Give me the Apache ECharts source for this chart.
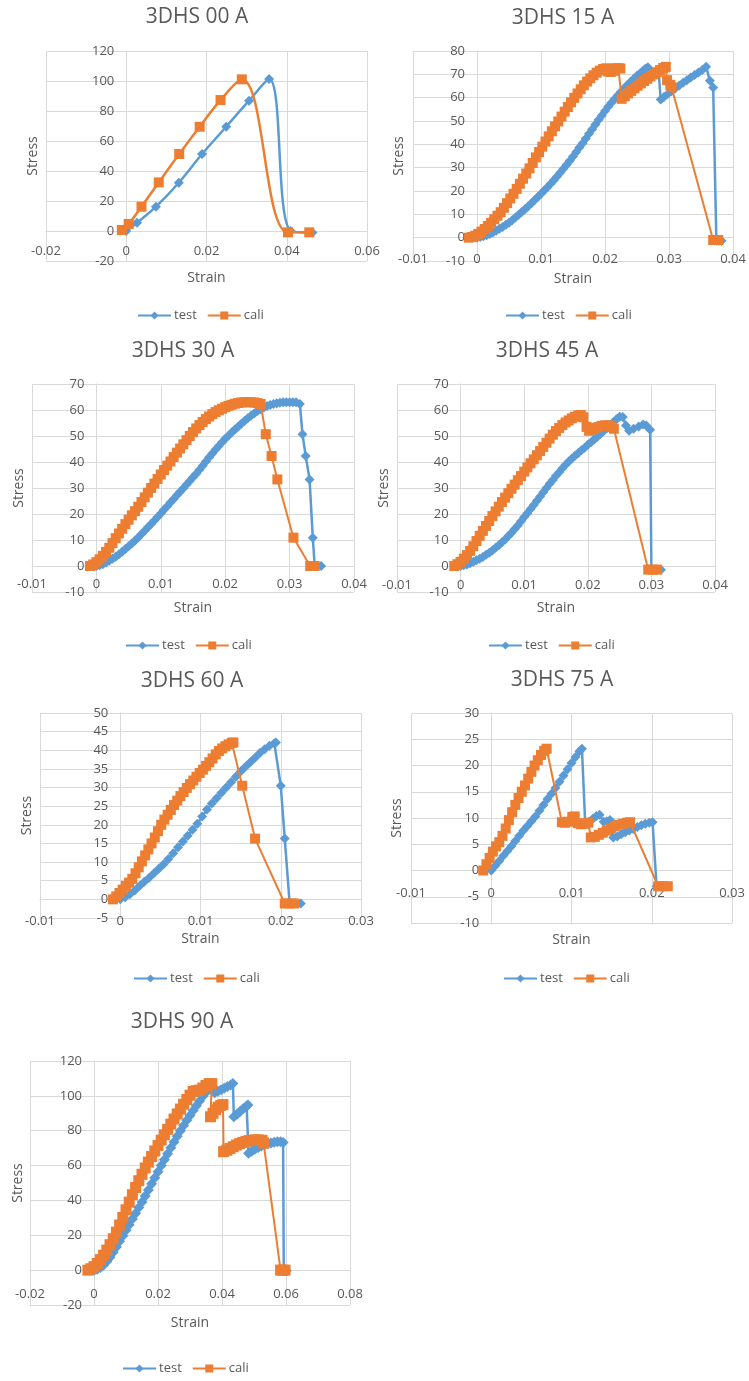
<!DOCTYPE html>
<html><head><meta charset="utf-8">
<script src="https://cdn.jsdelivr.net/npm/echarts@6/dist/echarts.min.js"></script>
<style>html,body{margin:0;padding:0;background:#fff}#c{width:749px;height:1381px}</style>
</head><body><div id="c"></div>
<script>
// ---------- DATA ([strain, stress]) ----------
const seriesNames = ['test', 'cali'];
const titles = ['3DHS 00 A', '3DHS 15 A', '3DHS 30 A', '3DHS 45 A', '3DHS 60 A', '3DHS 75 A', '3DHS 90 A'];
// axis ranges: [min, max, interval]
const xTicks = [[-0.02, 0.06, 0.02], [-0.01, 0.04, 0.01], [-0.01, 0.04, 0.01], [-0.01, 0.04, 0.01], [-0.01, 0.03, 0.01], [-0.01, 0.03, 0.01], [-0.02, 0.08, 0.02]];
const yTicks = [[-20, 120, 20], [-10, 80, 10], [-10, 70, 10], [-10, 70, 10], [-5, 50, 5], [-10, 30, 5], [-20, 120, 20]];

const test00 = [[0,0],[0.0027,5.5],[0.0074,16.2],[0.0131,32.2],[0.0189,51.3],[0.0249,69.5],[0.0306,86.9],[0.0356,101.3],[0.041,0],[0.0464,-1]];
const cali00 = [[-0.0011,0.7],[0.0006,4.7],[0.0038,16.2],[0.0081,32.4],[0.0132,51.3],[0.0183,69.5],[0.0235,87.3],[0.0288,101.1],[0.0403,-0.9],[0.0456,-0.9]];

const test15 = [[0,0],[0.0005,0.25],[0.001,0.6],[0.0015,1.05],[0.002,1.6],[0.0025,2.25],[0.003,3],[0.0035,3.8],[0.004,4.6],[0.0045,5.5],[0.005,6.4],[0.0055,7.5],[0.006,8.6],[0.0065,9.8],[0.007,11],[0.0075,12.2],[0.008,13.5],[0.0085,14.8],[0.009,16.1],[0.0095,17.4],[0.01,18.8],[0.0105,20.2],[0.011,21.6],[0.0115,23.1],[0.012,24.6],[0.0125,26.2],[0.013,27.8],[0.0135,29.5],[0.014,31.2],[0.0145,33],[0.015,34.8],[0.0155,36.7],[0.016,38.6],[0.0165,40.5],[0.017,42.5],[0.0175,44.5],[0.018,46.5],[0.0185,48.5],[0.019,50.5],[0.0195,52.4],[0.02,54.3],[0.0205,56.1],[0.021,57.8],[0.0215,59.4],[0.022,61],[0.0225,62.5],[0.023,64],[0.0235,65.4],[0.024,66.8],[0.0245,68.1],[0.025,69.4],[0.0255,70.5],[0.026,71.6],[0.0263,72.4],[0.0267,73],[0.0284,70.5],[0.0287,59.2],[0.0292,60.3],[0.0298,61.6],[0.0304,62.8],[0.031,64],[0.0316,65.2],[0.0322,66.4],[0.0328,67.5],[0.0334,68.6],[0.034,69.7],[0.0346,70.8],[0.0352,71.9],[0.0358,73.3],[0.0364,67.2],[0.0369,64.4],[0.0374,-1.3],[0.0378,-1.3],[0.0382,-1.3]];
const cali15 = [[-0.0013,0],[-0.0008,0.3],[-0.0003,0.8],[0.0002,1.6],[0.0007,2.6],[0.0012,3.7],[0.0017,5],[0.0022,6.4],[0.0027,7.9],[0.0032,9.4],[0.0037,10.9],[0.0042,12.8],[0.0047,14.8],[0.0052,16.8],[0.0057,18.8],[0.0062,20.9],[0.0067,23.1],[0.0072,25.3],[0.0077,27.5],[0.0082,29.7],[0.0087,32],[0.0092,34.4],[0.0097,36.7],[0.0102,39],[0.0107,41.2],[0.0112,43.4],[0.0117,45.6],[0.0122,47.7],[0.0127,49.8],[0.0132,51.9],[0.0137,54],[0.0142,56],[0.0147,58],[0.0152,59.9],[0.0157,61.8],[0.0162,63.6],[0.0167,65.3],[0.0172,66.9],[0.0177,68.3],[0.0182,69.6],[0.0187,70.7],[0.0192,71.6],[0.0197,72.3],[0.0202,72.6],[0.0205,71.2],[0.0209,71],[0.0213,71.5],[0.0217,72.6],[0.0221,72.6],[0.0224,72.5],[0.0226,59.5],[0.0231,60.6],[0.0236,61.8],[0.0241,62.9],[0.0246,64],[0.0251,65.1],[0.0256,66.1],[0.0261,67.1],[0.0266,68.1],[0.0271,69.1],[0.0276,70],[0.0281,70.9],[0.0286,71.8],[0.0291,72.7],[0.0295,73.2],[0.0297,67.5],[0.0302,65.5],[0.0304,64.5],[0.0369,-1],[0.0373,-1],[0.0377,-1]];

const test30 = [[0,0],[0.0005,0.3],[0.001,0.7],[0.0015,1.3],[0.002,2],[0.0025,2.8],[0.003,3.6],[0.0035,4.5],[0.004,5.5],[0.0045,6.5],[0.005,7.6],[0.0055,8.7],[0.006,9.8],[0.0065,11],[0.007,12.3],[0.0075,13.6],[0.008,14.9],[0.0085,16.2],[0.009,17.5],[0.0095,18.8],[0.01,20.2],[0.0105,21.6],[0.011,23],[0.0115,24.4],[0.012,25.8],[0.0125,27.2],[0.013,28.6],[0.0135,29.9],[0.014,31.3],[0.0145,32.7],[0.015,34.1],[0.0155,35.5],[0.016,37],[0.0165,38.6],[0.017,40.2],[0.0175,41.8],[0.018,43.3],[0.0185,44.8],[0.019,46.2],[0.0195,47.6],[0.02,48.9],[0.0205,50.1],[0.021,51.3],[0.0215,52.5],[0.022,53.6],[0.0225,54.7],[0.023,55.8],[0.0235,56.8],[0.024,57.8],[0.0245,58.7],[0.025,59.6],[0.0255,60.3],[0.026,61],[0.0265,61.5],[0.027,61.9],[0.0275,62.3],[0.028,62.6],[0.0285,62.8],[0.029,63],[0.0295,63],[0.03,63],[0.0305,63],[0.031,63],[0.0316,62.3],[0.032,50.7],[0.0325,42.3],[0.0331,33.3],[0.0336,10.9],[0.0339,0],[0.0349,0]];
const cali30 = [[-0.001,0],[-0.0005,0.6],[0,1.5],[0.0005,2.6],[0.001,3.9],[0.0015,5.4],[0.002,7],[0.0025,8.8],[0.003,10.7],[0.0035,12.5],[0.004,14.3],[0.0045,16.1],[0.005,17.8],[0.0055,19.5],[0.006,21.1],[0.0065,22.8],[0.007,24.6],[0.0075,26.4],[0.008,28.2],[0.0085,30],[0.009,31.7],[0.0095,33.5],[0.01,35.2],[0.0105,36.9],[0.011,38.6],[0.0115,40.2],[0.012,41.9],[0.0125,43.6],[0.013,45.2],[0.0135,46.8],[0.014,48.4],[0.0145,50],[0.015,51.5],[0.0155,52.9],[0.016,54.2],[0.0165,55.4],[0.017,56.5],[0.0175,57.5],[0.018,58.4],[0.0185,59.2],[0.019,59.9],[0.0195,60.5],[0.02,61.1],[0.0205,61.6],[0.021,62],[0.0215,62.4],[0.022,62.7],[0.0225,62.9],[0.023,63],[0.0235,63],[0.024,63],[0.0245,62.9],[0.025,62.7],[0.0255,62.3],[0.0263,50.7],[0.0272,42.3],[0.0281,33.3],[0.0306,10.9],[0.0332,0],[0.0339,0]];

const test45 = [[0,0],[0.0005,0.25],[0.001,0.6],[0.0015,1.1],[0.002,1.6],[0.0025,2.2],[0.003,2.8],[0.0035,3.5],[0.004,4.3],[0.0045,5.1],[0.005,6],[0.0055,7],[0.006,8],[0.0065,9.1],[0.007,10.2],[0.0075,11.5],[0.008,12.8],[0.0085,14.2],[0.009,15.6],[0.0095,17.2],[0.01,18.8],[0.0105,20.3],[0.011,21.9],[0.0115,23.5],[0.012,25.1],[0.0125,26.7],[0.013,28.4],[0.0135,30],[0.014,31.6],[0.0145,33.1],[0.015,34.7],[0.0155,36.1],[0.016,37.6],[0.0165,38.9],[0.017,40.2],[0.0175,41.3],[0.018,42.4],[0.0185,43.5],[0.019,44.5],[0.0195,45.5],[0.02,46.6],[0.0205,47.6],[0.021,48.7],[0.0215,49.7],[0.022,50.8],[0.0225,51.9],[0.023,53],[0.0235,54.1],[0.024,55.3],[0.0245,56.4],[0.025,57.4],[0.0255,57.3],[0.026,54],[0.0265,52],[0.0272,52.8],[0.028,53.7],[0.0287,54.4],[0.0292,54],[0.0298,52.4],[0.03,-1.2],[0.0307,-1.3],[0.0315,-1.4]];
const cali45 = [[-0.001,0],[-0.0005,0.7],[0,1.6],[0.0005,2.8],[0.001,4.2],[0.0015,5.8],[0.002,7.6],[0.0025,9.6],[0.003,11.6],[0.0035,13.5],[0.004,15.4],[0.0045,17.3],[0.005,19.2],[0.0055,21],[0.006,22.8],[0.0065,24.6],[0.007,26.3],[0.0075,28],[0.008,29.7],[0.0085,31.3],[0.009,33],[0.0095,34.6],[0.01,36.3],[0.0105,37.9],[0.011,39.5],[0.0115,41],[0.012,42.6],[0.0125,44.2],[0.013,45.8],[0.0135,47.4],[0.014,49],[0.0145,50.5],[0.015,51.9],[0.0155,53.1],[0.016,54.2],[0.0165,55.2],[0.017,56],[0.0175,56.8],[0.018,57.4],[0.0185,57.9],[0.0189,58.1],[0.0193,57.2],[0.0198,53.5],[0.0202,52],[0.0207,52.6],[0.0212,53.1],[0.0217,53.5],[0.0222,53.9],[0.0227,54.1],[0.0232,54.1],[0.0237,53.6],[0.0241,52.8],[0.0295,-1.4],[0.0302,-1.4],[0.0309,-1.4]];

const test60 = [[0,0],[0.0006,0.6],[0.0012,1.4],[0.0018,2.4],[0.0024,3.6],[0.003,4.7],[0.0036,5.8],[0.0042,7],[0.0048,8.2],[0.0054,9.4],[0.006,10.8],[0.0066,12.4],[0.0072,14],[0.0078,15.5],[0.0084,17.1],[0.009,18.7],[0.0096,20.3],[0.0102,22.2],[0.0108,24.1],[0.0114,25.7],[0.012,27.1],[0.0126,28.6],[0.0132,30],[0.0138,31.4],[0.0144,32.9],[0.015,34.3],[0.0156,35.6],[0.0162,36.8],[0.0168,38],[0.0174,39.3],[0.018,40.3],[0.0186,41.2],[0.0192,41.9],[0.0194,42.1],[0.02,30.5],[0.0205,16.3],[0.0211,-0.9],[0.0218,-1],[0.0225,-1.1]];
const cali60 = [[-0.0009,0],[-0.0005,0.8],[-0.0001,1.7],[0.0003,2.6],[0.0007,3.6],[0.0011,4.5],[0.0015,5.5],[0.0019,7],[0.0023,8.6],[0.0027,10.2],[0.0031,11.8],[0.0035,13.4],[0.0039,15],[0.0043,16.6],[0.0047,18.3],[0.0051,20],[0.0055,21.4],[0.0059,22.7],[0.0063,24],[0.0067,25.3],[0.0071,26.5],[0.0075,27.7],[0.0079,28.8],[0.0083,29.9],[0.0087,30.9],[0.0091,31.9],[0.0095,32.9],[0.0099,33.9],[0.0103,34.8],[0.0107,35.8],[0.0111,36.8],[0.0115,37.8],[0.0119,38.9],[0.0123,39.8],[0.0127,40.5],[0.0131,41.1],[0.0135,41.6],[0.0139,42],[0.0141,42.1],[0.0152,30.5],[0.0168,16.3],[0.0205,-1.1],[0.0211,-1.1],[0.0217,-1.1]];

const test75 = [[0,0],[0.0005,0.9],[0.001,1.8],[0.0015,2.8],[0.002,3.7],[0.0025,4.6],[0.003,5.6],[0.0035,6.6],[0.004,7.6],[0.0045,8.5],[0.005,9.4],[0.0055,10.3],[0.006,11.4],[0.0065,12.5],[0.007,13.6],[0.0075,14.6],[0.008,15.7],[0.0085,16.9],[0.009,18.1],[0.0095,19.3],[0.01,20.5],[0.0105,21.6],[0.011,22.7],[0.0113,23.2],[0.0117,9.3],[0.0122,9.3],[0.0127,9.9],[0.0131,10.4],[0.0135,10.6],[0.014,9.3],[0.0144,9.4],[0.0148,9.6],[0.0152,6.3],[0.0157,6.5],[0.0162,6.9],[0.0167,7.3],[0.0172,7.6],[0.0177,7.9],[0.0182,8.3],[0.0187,8.6],[0.0192,8.9],[0.0197,9.1],[0.0201,9.2],[0.0206,-3],[0.0211,-3]];
const cali75 = [[-0.001,0],[-0.0006,1.2],[-0.0002,2.4],[0.0002,3.6],[0.0006,4.6],[0.001,5.4],[0.0014,6.6],[0.0018,8],[0.0022,9.6],[0.0026,11.1],[0.003,12.5],[0.0034,13.8],[0.0038,15],[0.0042,16.2],[0.0046,17.5],[0.005,18.8],[0.0054,20],[0.0058,21],[0.0062,22],[0.0066,22.8],[0.0069,23.2],[0.0088,9.2],[0.0092,9.1],[0.0096,9.3],[0.0101,10.2],[0.0104,10.3],[0.0108,9],[0.0112,8.8],[0.0117,8.9],[0.0121,9.1],[0.0124,6.3],[0.0129,6.4],[0.0134,6.8],[0.0139,7.2],[0.0144,7.6],[0.0149,8],[0.0154,8.4],[0.0159,8.7],[0.0164,8.9],[0.0169,9.1],[0.0173,9.2],[0.0208,-3],[0.0214,-3],[0.022,-3]];

const test90 = [[0,0],[0.001,0.5],[0.002,1.5],[0.003,3],[0.004,5],[0.005,7.4],[0.006,10.2],[0.007,13.3],[0.008,16.6],[0.009,19.7],[0.01,22.9],[0.011,26.1],[0.012,29.3],[0.013,32.6],[0.014,35.9],[0.015,39.1],[0.016,42.5],[0.017,46],[0.018,49.5],[0.019,53],[0.02,56.5],[0.021,60],[0.022,63.4],[0.023,66.8],[0.024,70.2],[0.025,73.5],[0.026,76.8],[0.027,80],[0.028,83],[0.029,86],[0.03,88.8],[0.031,91.6],[0.032,94.3],[0.033,97],[0.034,99.8],[0.035,102],[0.036,103.8],[0.0372,105],[0.0377,101.8],[0.0387,102.7],[0.0397,103.5],[0.0407,104.4],[0.0417,105.3],[0.0427,106.3],[0.0434,107.1],[0.0437,88],[0.0447,89.5],[0.0457,91.2],[0.0467,92.8],[0.0477,94.2],[0.0481,94.7],[0.0483,67],[0.0493,68.2],[0.0503,69.3],[0.0513,70.3],[0.0523,71.2],[0.0533,71.9],[0.0543,72.5],[0.0553,73],[0.0563,73.4],[0.0573,73.6],[0.0583,73.6],[0.0591,73.2],[0.0593,0],[0.0601,-0.4]];
const cali90 = [[-0.0019,0],[-0.001,0.8],[0,2],[0.001,3.8],[0.002,6],[0.003,8.6],[0.004,11.5],[0.005,14.6],[0.006,18],[0.007,21.8],[0.008,25.9],[0.009,30.2],[0.01,34.6],[0.011,39],[0.012,43.3],[0.013,47.4],[0.014,51.3],[0.015,55],[0.016,58.6],[0.017,62],[0.018,65.2],[0.019,68.4],[0.02,71.5],[0.021,74.6],[0.022,77.7],[0.023,80.8],[0.024,83.8],[0.025,86.7],[0.026,89.6],[0.027,92.4],[0.028,95.2],[0.029,97.9],[0.03,100.4],[0.031,102.5],[0.032,103],[0.033,103.3],[0.034,104.5],[0.035,106],[0.036,107],[0.0368,107],[0.0364,88],[0.0372,90],[0.038,92],[0.0388,93.5],[0.0396,94.5],[0.0403,95],[0.0405,68],[0.0415,68.8],[0.0425,69.8],[0.0435,70.8],[0.0445,71.8],[0.0455,72.6],[0.0465,73.3],[0.0475,73.9],[0.0485,74.3],[0.0495,74.6],[0.0505,74.7],[0.0515,74.7],[0.0525,74.5],[0.053,73],[0.0583,0],[0.059,0],[0.0597,0]];

const testData = [test00, test15, test30, test45, test60, test75, test90];
const caliData = [cali00, cali15, cali30, cali45, cali60, cali75, cali90];

// ---------- LAYOUT (pixels) ----------
const layout = [
  {grid:[46,51,321,210],  title:[197,20],   legend:[137,315],  xGap:40, yGap:86, xm:14, smooth:0.4,   ts:10, cs:10},
  {grid:[413,51,320,210], title:[563,21],   legend:[505,315],  xGap:34, yGap:71, xm:15, smooth:false, ts:10, cs:10},
  {grid:[32,384,322,208], title:[183,354],  legend:[125,645],  xGap:35, yGap:70, xm:12, smooth:false, ts:10, cs:10},
  {grid:[397,384,318,208],title:[547,354],  legend:[488,645],  xGap:35, yGap:70, xm:13, smooth:false, ts:10, cs:10},
  {grid:[40,713,321,205], title:[192,684],  legend:[133,978],  xGap:33, yGap:86, xm:15, smooth:false, ts:10, cs:10},
  {grid:[411,713,321,210],title:[562,683],  legend:[503,978],  xGap:63, yGap:87, xm:16, smooth:false, ts:10, cs:10},
  {grid:[30,1061,320,244],title:[182,1025], legend:[122,1368], xGap:46, yGap:69, xm:18, smooth:false, ts:11, cs:11}
];

const BLUE = '#5B9BD5', ORANGE = '#ED7D31', TXT = '#595959', GRIDC = '#d9d9d9';
const FONT = '"Open Sans", "Noto Sans", sans-serif';
const fmt = v => String(parseFloat(Number(v).toFixed(4)));

const option = {
  backgroundColor: '#fff',
  animation: false,
  textStyle: {fontFamily: FONT},
  title: [], legend: [], grid: [], xAxis: [], yAxis: [], series: []
};

layout.forEach((L, i) => {
  const xt = xTicks[i], yt = yTicks[i];
  // place each axis on the other axis' zero (Excel style crossing)
  const xAxisOffset = -(0 - yt[0]) / (yt[1] - yt[0]) * L.grid[3];
  const yAxisOffset = -(0 - xt[0]) / (xt[1] - xt[0]) * L.grid[2];
  option.title.push({
    text: titles[i], left: L.title[0], top: L.title[1] - 13, textAlign: 'center', padding: 0,
    textStyle: {fontFamily: FONT, fontSize: 21, fontWeight: 'normal', color: TXT}
  });
  option.legend.push({
    data: seriesNames, left: L.legend[0], top: L.legend[1] - 6, padding: 0,
    itemWidth: 33, itemHeight: 10, itemGap: 10, selectedMode: false,
    textStyle: {fontFamily: FONT, fontSize: 13, color: TXT, padding: [0, 0, 0, -2]}
  });
  option.grid.push({left: L.grid[0], top: L.grid[1], width: L.grid[2], height: L.grid[3], containLabel: false, outerBoundsMode: 'none'});
  option.xAxis.push({
    type: 'value', gridIndex: i, min: xt[0], max: xt[1], interval: xt[2], offset: xAxisOffset,
    name: 'Strain', nameLocation: 'middle', nameGap: L.xGap, nameMoveOverlap: false,
    nameTextStyle: {fontFamily: FONT, fontSize: 14, color: TXT},
    axisLine: {show: true, onZero: false, lineStyle: {color: GRIDC, width: 1}},
    axisTick: {show: false},
    axisLabel: {margin: L.xm, fontFamily: FONT, fontSize: 13, color: TXT, formatter: fmt, showMinLabel: true, showMaxLabel: true},
    splitLine: {show: true, lineStyle: {color: GRIDC, width: 1}}
  });
  option.yAxis.push({
    type: 'value', gridIndex: i, min: yt[0], max: yt[1], interval: yt[2], offset: yAxisOffset,
    name: 'Stress', nameLocation: 'middle', nameGap: L.yGap, nameMoveOverlap: false,
    nameTextStyle: {fontFamily: FONT, fontSize: 14, color: TXT},
    axisLine: {show: true, onZero: false, lineStyle: {color: GRIDC, width: 1}},
    axisTick: {show: false},
    axisLabel: {margin: 12, fontFamily: FONT, fontSize: 13, color: TXT, formatter: fmt, showMinLabel: true, showMaxLabel: true},
    splitLine: {show: true, lineStyle: {color: GRIDC, width: 1}}
  });
  option.series.push({
    name: seriesNames[0], type: 'line', xAxisIndex: i, yAxisIndex: i, data: testData[i],
    smooth: L.smooth, symbol: 'diamond', symbolSize: L.ts, showAllSymbol: true, z: 2,
    itemStyle: {color: BLUE, borderWidth: 0}, lineStyle: {color: BLUE, width: 2.5}
  });
  option.series.push({
    name: seriesNames[1], type: 'line', xAxisIndex: i, yAxisIndex: i, data: caliData[i],
    smooth: L.smooth, symbol: 'rect', symbolSize: L.cs, showAllSymbol: true, z: 3,
    itemStyle: {color: ORANGE, borderWidth: 0}, lineStyle: {color: ORANGE, width: i === 0 ? 2.5 : 2}
  });
});

const chart = echarts.init(document.getElementById('c'), null, {renderer: 'canvas'});
chart.setOption(option);
</script>
</body></html>
